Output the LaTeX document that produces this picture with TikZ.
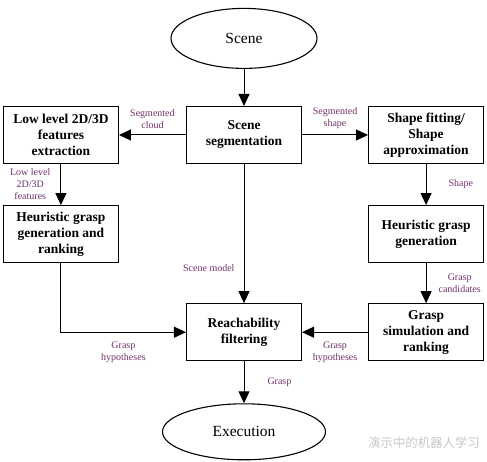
\documentclass[tikz,border=0pt]{standalone}
\usepackage{fontspec}
\setmainfont{Liberation Serif}
\newfontfamily\cjkfont{Noto Sans CJK SC}
\usepackage{xcolor}
\usepackage{tikz}
\usetikzlibrary{shapes.geometric, arrows.meta, positioning}
\definecolor{edgelabel}{RGB}{112,48,104}
\tikzset{
  box/.style={rectangle, draw, line width=1.1pt, minimum height=57pt, minimum width=115pt, align=center, inner sep=2pt, font=\bfseries\fontsize{13.5}{16}\selectfont},
  blob/.style={ellipse, draw, line width=1.1pt, align=center, font=\fontsize{15.5}{18}\selectfont},
  arrow/.style={-{Triangle[length=12pt, width=11pt]}, line width=1pt},
  lbl/.style={text=edgelabel, align=center, inner sep=1pt, font=\fontsize{10}{12}\selectfont},
}

\begin{document}
\begin{tikzpicture}
    \useasboundingbox (0,0) rectangle (487pt,-462pt);
    \node[box] (seg) at (244pt,-135pt) {Scene\\segmentation};
    \node[blob, minimum width=146pt, minimum height=60pt, above=37pt of seg] (scene) {Scene};
    \node[box, left=67pt of seg] (lowlevel) {Low level 2D/3D\\features\\extraction};
    \node[box, right=66pt of seg] (shapefit) {Shape fitting/\\Shape\\approximation};
    \node[box, below=41pt of lowlevel] (heurrank) {Heuristic grasp\\generation and\\ranking};
    \node[box, below=41pt of shapefit] (heurgen) {Heuristic grasp\\generation};
    \node[box, below=40pt of heurgen] (simrank) {Grasp\\simulation and\\ranking};
    \node[box] (reach) at (seg |- simrank) {Reachability\\filtering};
    \node[blob, minimum width=163pt, minimum height=56pt, below=42pt of reach] (exec) {Execution};
    \node[text=black!22, font=\cjkfont\fontsize{12.4}{14}\selectfont] (mark) at (424pt,-443pt) {演示中的机器人学习};

    \draw[arrow] (scene) -- (seg);
    \draw[arrow] (seg) -- node[lbl, above=5pt] (cloudlbl) {Segmented\\cloud} (lowlevel);
    \draw[arrow] (seg) -- node[lbl, above=5pt] (shapelbl) {Segmented\\shape} (shapefit);
    \draw[arrow] (lowlevel) -- node[lbl, left=9pt] (featlbl) {Low level\\2D/3D\\features} (heurrank);
    \draw[arrow] (shapefit) -- node[lbl, right=21pt] (shapeout) {Shape} (heurgen);
    \draw[arrow] (heurgen) -- node[lbl, right=11pt] (candlbl) {Grasp\\candidates} (simrank);
    \draw[arrow] (seg) -- node[lbl, pos=0.75, left=8pt] (modellbl) {Scene model} (reach);
    \draw[arrow] (heurrank) |- node[lbl, pos=0.75, below=8pt] (hypleft) {Grasp\\hypotheses} (reach);
    \draw[arrow] (simrank) -- node[lbl, below=8pt] (hypright) {Grasp\\hypotheses} (reach);
    \draw[arrow] (reach) -- node[lbl, right=22pt] (grasplbl) {Grasp} (exec);
  \end{tikzpicture}
\end{document}
